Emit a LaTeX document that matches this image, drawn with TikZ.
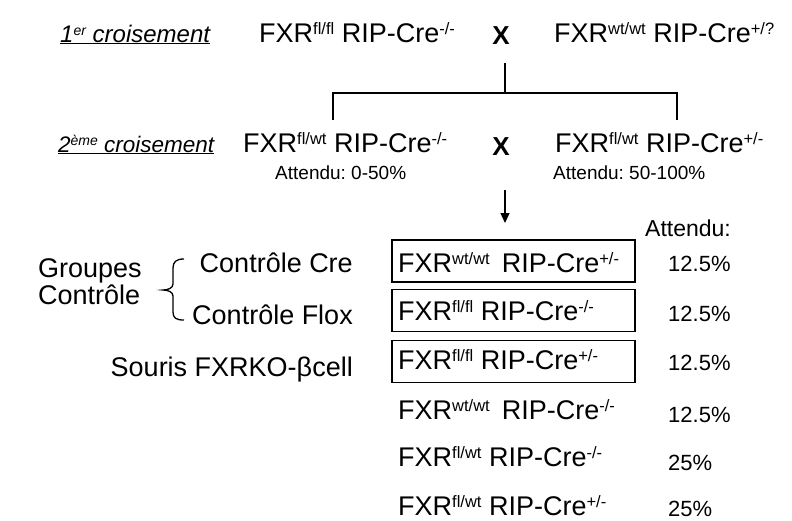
\documentclass[tikz,border=0pt]{standalone}
\usepackage{fontspec}
\setmainfont{Liberation Sans}
\usetikzlibrary{arrows.meta}
\newcommand\ssup[1]{\raisebox{8pt}{\fontsize{16.5}{16.5}\selectfont #1}}
\newcommand\hsup[1]{\raisebox{7pt}{\fontsize{14}{14}\selectfont #1}}
\frenchspacing
\begin{document}
\begin{tikzpicture}[x=1pt,y=-1pt,
  txt/.style={inner sep=0pt, font=\fontsize{27}{30}\selectfont},
  head/.style={inner sep=0pt, font=\fontsize{24}{30}\selectfont\itshape},
  att/.style={inner sep=0pt, font=\fontsize{19}{22}\selectfont},
  pct/.style={inner sep=0pt, font=\fontsize{22}{26}\selectfont},
  attr/.style={inner sep=0pt, font=\fontsize{23}{26}\selectfont},
  cross/.style={inner sep=0pt, font=\fontsize{26}{30}\selectfont\bfseries},
  line/.style={line width=1.3pt},
  genobox/.style={draw, line width=1.3pt, minimum width=243pt, minimum height=42pt, inner sep=0pt}]
\useasboundingbox (0,0) rectangle (792,520);
% row 1
\node[head, anchor=base west] (h1) at (60,42) {\underline{1\hsup{er} croisement}};
\node[txt, anchor=base west] (p1) at (259,42) {FXR\ssup{fl/fl} RIP-Cre\ssup{-/-}};
\node[cross, anchor=base] (x1) at (501,44) {X};
\node[txt, anchor=base west] (p2) at (554,42) {FXR\ssup{wt/wt} RIP-Cre\ssup{+/?}};
% bracket
\coordinate (v1) at (505,63);
\coordinate (j) at (505,93);
\coordinate (jl) at (333,93);
\coordinate (jr) at (677,93);
\coordinate (dl) at (333,120);
\coordinate (dr) at (677,120);
\draw[line] (v1) -- (j);
\draw[line] (dl) -- (jl) -- (jr) -- (dr);
% row 2
\node[head, anchor=base west, font=\fontsize{22.5}{30}\selectfont\itshape] (h2) at (58,152) {\underline{2\hsup{ème} croisement}};
\node[txt, anchor=base west] (q1) at (243,152) {FXR\ssup{fl/wt} RIP-Cre\ssup{-/-}};
\node[cross, anchor=base] (x2) at (501,155) {X};
\node[txt, anchor=base west] (q2) at (555,152) {FXR\ssup{fl/wt} RIP-Cre\ssup{+/-}};
\node[att, anchor=base west] (a1) at (275,179) {Attendu: 0-50\%};
\node[att, anchor=base west] (a2) at (553,179) {Attendu: 50-100\%};
% arrow
\coordinate (as) at (505,190);
\coordinate (ae) at (505,223);
\draw[line,-{Triangle[length=10pt,width=9pt]}] (as) -- (ae);
\node[attr, anchor=base west] (att) at (645,236) {Attendu:};
% boxes
\node[genobox] (b1) at (513.5,261) {};
\node[genobox] (b2) at (513.5,310.5) {};
\node[genobox] (b3) at (513.5,361.5) {};
\node[txt, anchor=base west] (g1) at (398,272) {FXR\ssup{wt/wt}\, RIP-Cre\ssup{+/-}};
\node[txt, anchor=base west] (g2) at (398,320) {FXR\ssup{fl/fl} RIP-Cre\ssup{-/-}};
\node[txt, anchor=base west] (g3) at (398,369) {FXR\ssup{fl/fl} RIP-Cre\ssup{+/-}};
\node[txt, anchor=base west] (g4) at (398,419) {FXR\ssup{wt/wt}\, RIP-Cre\ssup{-/-}};
\node[txt, anchor=base west] (g5) at (398,466) {FXR\ssup{fl/wt} RIP-Cre\ssup{-/-}};
\node[txt, anchor=base west] (g6) at (398,515) {FXR\ssup{fl/wt} RIP-Cre\ssup{+/-}};
% percentages
\node[pct, anchor=base west] (r1) at (668,271) {12.5\%};
\node[pct, anchor=base west] (r2) at (668,321) {12.5\%};
\node[pct, anchor=base west] (r3) at (668,370) {12.5\%};
\node[pct, anchor=base west] (r4) at (668,422) {12.5\%};
\node[pct, anchor=base west] (r5) at (668,470) {25\%};
\node[pct, anchor=base west] (r6) at (668,516) {25\%};
% left labels
\node[txt, anchor=base east] (l1) at (353,272) {Contrôle Cre};
\node[txt, anchor=base east] (l2) at (353,324) {Contrôle Flox};
\node[txt, anchor=base east] (l3) at (353,376) {Souris FXRKO-βcell};
\node[txt, anchor=base west] (gr) at (38,277) {Groupes};
\node[txt, anchor=base west] (ct) at (38,304) {Contrôle};
% brace
\draw[line] (184,259) .. controls (176,259) and (173,262) .. (173,268) -- (173,284)
  .. controls (173,288) and (168,290) .. (163,290)
  .. controls (168,290) and (173,292) .. (173,296) -- (173,312)
  .. controls (173,318) and (176,320) .. (184,320);
\end{tikzpicture}
\end{document}
